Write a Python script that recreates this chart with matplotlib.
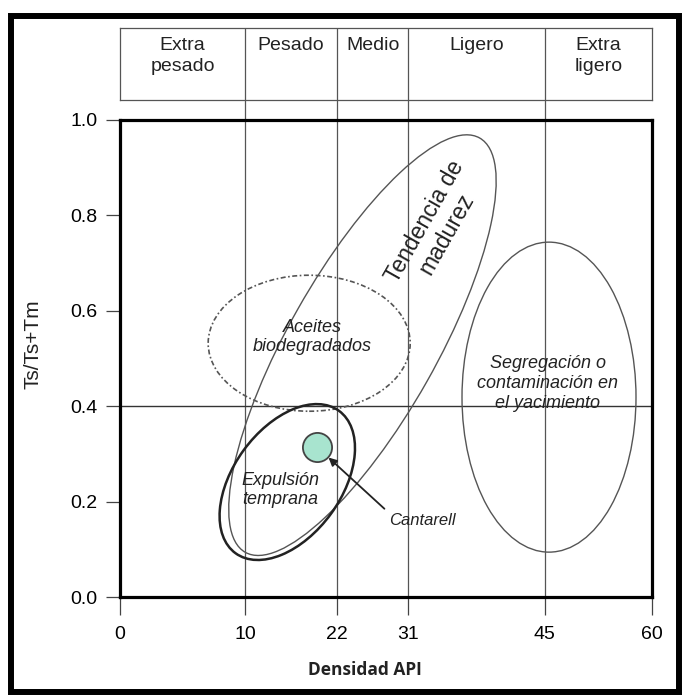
import matplotlib.pyplot as plt
import matplotlib.transforms as mtransforms
from matplotlib.patches import Ellipse, Rectangle
import numpy as np

# API gravity ticks and where they sit along the (non-uniform) axis, in 0-60 units
api_ticks = [0, 10, 22, 31, 45, 60]
tick_pos = [0, 14.1, 24.5, 32.5, 47.9, 60]
ts_ticks = [0.0, 0.2, 0.4, 0.6, 0.8, 1.0]

band_labels = ['Extra\npesado', 'Pesado', 'Medio', 'Ligero', 'Extra\nligero']

# Cantarell sample
cantarell_api = 19.4
cantarell_ts = 0.314

# regions: label, center API, center Ts
region_names = ['Tendencia de\nmadurez', 'Aceites\nbiodegradados',
                'Expulsión\ntemprana', 'Segregación o\ncontaminación en\nel yacimiento']
region_api = [25.2, 18.35, 15.5, 45.6]
region_ts = [0.528, 0.532, 0.241, 0.419]


def fwd(x):
    return np.interp(x, api_ticks, tick_pos)


def inv(p):
    return np.interp(p, tick_pos, api_ticks)


plt.rcParams['font.family'] = ['Liberation Sans', 'DejaVu Sans']
DPI = 100
fig = plt.figure(figsize=(6.84, 6.95), dpi=DPI)
ax = fig.add_axes([120 / 684, 1 - 597 / 695, 532 / 684, 477 / 695])
band = fig.add_axes([120 / 684, 1 - 100 / 695, 532 / 684, 72 / 695])

for a in (ax, band):
    a.set_xscale('function', functions=(fwd, inv))
    a.set_xlim(0, 60)

ax.set_ylim(0, 1.0)
ax.set_xticks(api_ticks)
ax.set_xticklabels([str(v) for v in api_ticks])
ax.set_yticks(ts_ticks)
ax.set_yticklabels(['%.1f' % v for v in ts_ticks])
ax.tick_params(axis='x', direction='out', length=13, width=0.9, color='#444444',
               labelsize=14, pad=8)
ax.tick_params(axis='y', direction='out', length=10, width=0.9, color='#444444',
               labelsize=14, pad=6)
for sp in ax.spines.values():
    sp.set_linewidth(2.3)
    sp.set_color('black')

# vertical class limits, running up into the class band
for v in api_ticks[1:-1]:
    ax.axvline(v, ymin=0, ymax=1.042, color='#555555', lw=0.9, clip_on=False, zorder=1)
    band.axvline(v, color='#555555', lw=0.9)
ax.axhline(0.4, color='#333333', lw=1.0, zorder=1)

# class band
band.set_ylim(0, 1)
band.set_xticks([])
band.set_yticks([])
for sp in band.spines.values():
    sp.set_linewidth(0.9)
    sp.set_color('#555555')
for i, lab in enumerate(band_labels):
    xc = inv((fwd(api_ticks[i]) + fwd(api_ticks[i + 1])) / 2)
    band.text(xc, 0.88, lab, ha='center', va='top', fontsize=14, color='#222222',
              linespacing=1.3)


def ellipse_at(x, y, w_px, h_px, angle, **kw):
    tr = fig.dpi_scale_trans + mtransforms.ScaledTranslation(x, y, ax.transData)
    return Ellipse((0, 0), w_px / DPI, h_px / DPI, angle=angle, transform=tr, **kw)


ax.add_patch(ellipse_at(region_api[0], region_ts[0], 476, 148, 60.5,
                        fill=False, ec='#555555', lw=1.0))
ax.add_patch(ellipse_at(region_api[1], region_ts[1], 202, 136, 0,
                        fill=False, ec='#555555', lw=1.2, ls=(0, (3, 1.5, 1, 1.5))))
ax.add_patch(ellipse_at(region_api[2], region_ts[2], 176, 108, 54,
                        fill=False, ec='#222222', lw=1.8))
ax.add_patch(ellipse_at(region_api[3], region_ts[3], 174, 310, 0,
                        fill=False, ec='#555555', lw=1.0))

ax.text(33.8, 0.774, region_names[0], rotation=60.5, ha='center', va='center',
        fontsize=16.5, color='#222222', rotation_mode='anchor', linespacing=1.1)
ax.text(18.74, 0.545, region_names[1], ha='center', va='center', fontsize=13,
        style='italic', color='#222222')
ax.text(14.6, 0.224, region_names[2], ha='center', va='center', fontsize=13,
        style='italic', color='#222222')
ax.text(45.4, 0.448, region_names[3], ha='center', va='center', fontsize=13,
        style='italic', color='#222222', linespacing=1.25)

ax.plot([cantarell_api], [cantarell_ts], 'o', ms=21, mfc='#a8e4cf', mec='#444444',
        mew=1.3, zorder=4)
ax.annotate('Cantarell', xy=(cantarell_api, cantarell_ts), xytext=(28.6, 0.16),
            ha='left', va='center', fontsize=12, style='italic', color='#222222',
            arrowprops=dict(arrowstyle='-|>', color='#222222', lw=1.3,
                            shrinkA=2, shrinkB=11, relpos=(0, 1),
                            mutation_scale=12))

ax.set_ylabel('Ts/Ts+Tm', fontsize=15, color='#222222')
ax.yaxis.set_label_coords(-0.145, 0.53)
ax.set_xlabel('Densidad API', fontsize=12.5, fontweight='bold', color='#222222',
              family=['Open Sans', 'DejaVu Sans'])
ax.xaxis.set_label_coords(0.46, -0.135)

# outer black frame
fig.patches.append(Rectangle((11 / 684, 3 / 695), 668 / 684, 676 / 695,
                             transform=fig.transFigure, fill=False, ec='black', lw=4.3))

fig.savefig('out.png', dpi=DPI)
